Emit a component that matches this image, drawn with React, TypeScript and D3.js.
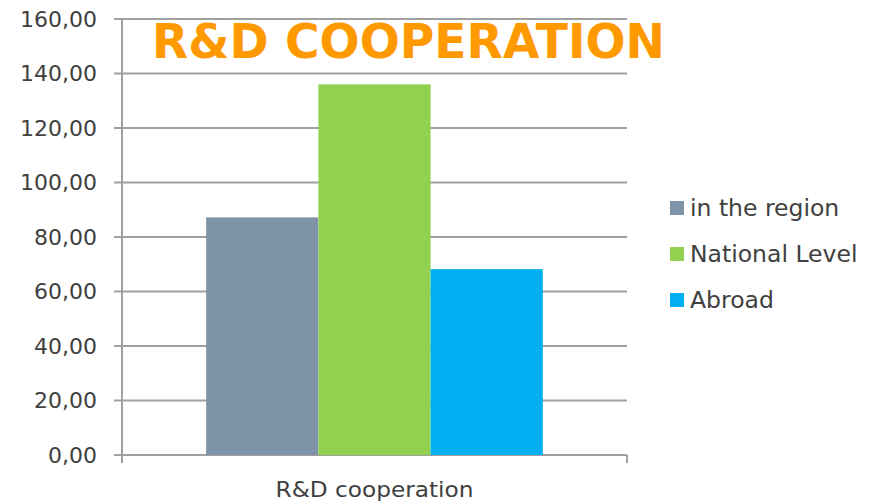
import * as d3 from "d3";

const categories = ["R&D cooperation"];
const seriesNames = ["in the region", "National Level", "Abroad"];
const seriesValues = [87.2, 136.0, 68.2];
const seriesColors = ["#7F93A8", "#92D050", "#00B0F0"];
const yTicks = [0, 20, 40, 60, 80, 100, 120, 140, 160];
const title = "R&D COOPERATION";

const W = 882;
const H = 504;
const margin = { top: 19, right: 255, bottom: 49, left: 122 };
const FONT = "'DejaVu Sans', Verdana, sans-serif";

export default function App() {
  const x = d3
    .scaleBand<string>()
    .domain(categories)
    .range([margin.left, W - margin.right]);
  const y = d3
    .scaleLinear()
    .domain([0, 160])
    .range([H - margin.bottom, margin.top]);
  // bars take the middle of the category band
  const inner = d3
    .scaleBand<string>()
    .domain(seriesNames)
    .range([0, x.bandwidth()])
    .paddingOuter(0.75)
    .paddingInner(0);
  const fmt = (v: number) => d3.format(".2f")(v).replace(".", ",");
  const y0 = y(0);
  const xr = W - margin.right;

  return (
    <svg width={W} height={H} style={{ position: "absolute", left: 0, top: 0, background: "#fff" }}>
      {yTicks.map((t) => (
        <g key={t}>
          <line x1={margin.left - 8} x2={xr} y1={y(t)} y2={y(t)} stroke="#A0A0A0" strokeWidth={2} />
          <text
            x={97}
            y={y(t)}
            dy="0.35em"
            textAnchor="end"
            fontFamily={FONT}
            fontSize={22}
            fill="#404040"
          >
            {fmt(t)}
          </text>
        </g>
      ))}
      <line x1={margin.left} x2={margin.left} y1={margin.top} y2={y0 + 8} stroke="#A0A0A0" strokeWidth={2} />
      <line x1={xr} x2={xr} y1={y0} y2={y0 + 8} stroke="#A0A0A0" strokeWidth={2} />
      {categories.map((c) => (
        <g key={c}>
          {seriesNames.map((s, i) => (
            <rect
              key={s}
              x={(x(c) ?? 0) + (inner(s) ?? 0)}
              y={y(seriesValues[i])}
              width={inner.bandwidth()}
              height={y0 - y(seriesValues[i])}
              fill={seriesColors[i]}
            />
          ))}
          <text
            x={(x(c) ?? 0) + x.bandwidth() / 2}
            y={497}
            textAnchor="middle"
            fontFamily={FONT}
            fontSize={22}
            fill="#404040"
            textLength={198}
            lengthAdjust="spacingAndGlyphs"
          >
            {c}
          </text>
        </g>
      ))}
      {seriesNames.map((s, i) => (
        <g key={s} transform={`translate(670, ${208 + i * 46})`}>
          <rect x={0} y={-7} width={14} height={14} fill={seriesColors[i]} />
          <text x={20} y={0} dy="0.35em" fontFamily={FONT} fontSize={23.5} fill="#404040">
            {s}
          </text>
        </g>
      ))}
      <text
        x={152}
        y={58}
        fontFamily={FONT}
        fontWeight="bold"
        fontSize={48}
        fill="#FF9900"
        textLength={513}
        lengthAdjust="spacingAndGlyphs"
      >
        {title}
      </text>
    </svg>
  );
}
